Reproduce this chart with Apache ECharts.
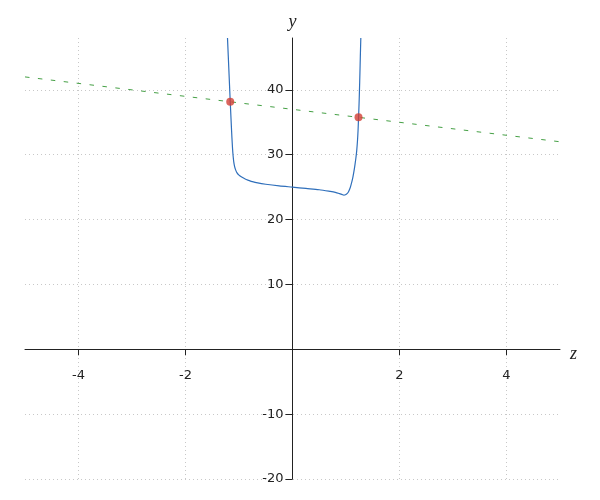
<!DOCTYPE html>
<html>
<head>
<meta charset="utf-8">
<script src="https://cdn.jsdelivr.net/npm/echarts@6/dist/echarts.min.js"></script>
<style>html,body{margin:0;padding:0;background:#fff}#c{width:600px;height:500px}</style>
</head>
<body>
<div id="c"></div>
<script>
// Curve values
const curveZ = [-1.215, -1.19, -1.164, -1.145, -1.132, -1.121, -1.110, -1.098, -1.083, -1.065, -1.040, -1.0, -0.95, -0.884, -0.82, -0.75, -0.65, -0.5, -0.25, 0, 0.25, 0.5, 0.7, 0.8, 0.88, 0.93, 0.96, 0.99, 1.02, 1.047, 1.08, 1.11, 1.13, 1.15, 1.17, 1.185, 1.20, 1.215, 1.225, 1.234, 1.243, 1.252, 1.26, 1.268, 1.277];
const curveY = [48, 43.2, 38.2, 34.8, 32.6, 31.0, 29.8, 28.9, 28.2, 27.7, 27.25, 26.85, 26.55, 26.25, 26.05, 25.85, 25.65, 25.45, 25.2, 25.0, 24.8, 24.6, 24.35, 24.2, 24.0, 23.85, 23.78, 23.82, 24.0, 24.3, 24.95, 25.85, 26.6, 27.5, 28.6, 29.5, 30.6, 32.2, 33.7, 35.6, 37.6, 40.0, 42.5, 45.2, 48];
// Dashed straight line
const lineZ = [-5, 5];
const lineY = [42, 32];
// Intersection points
const dotZ = [-1.164, 1.234];
const dotY = [38.16, 35.77];
// Axis ranges and ticks
const xRange = [-5, 5];
const yRange = [-20, 48];
const xTicks = [-4, -2, 0, 2, 4];
const yTicks = [-20, -10, 0, 10, 20, 30, 40];

const W = 600, H = 500;
const G = { left: 25, right: 40, top: 38, bottom: 21 };
const gridW = W - G.left - G.right, gridH = H - G.top - G.bottom;
// move axes so that they cross at the origin
const xAxisOffset = -gridH * (0 - yRange[0]) / (yRange[1] - yRange[0]);
const yAxisOffset = -gridW * (0 - xRange[0]) / (xRange[1] - xRange[0]);

const zip = (a, b) => a.map((v, i) => [v, b[i]]);
const labelFont = { fontFamily: 'DejaVu Sans', fontSize: 13, color: '#222' };
const nameFont = { fontFamily: 'Liberation Serif', fontStyle: 'italic', fontSize: 18, color: '#222' };
const gridStyle = { show: true, lineStyle: { color: '#c8c8c8', type: [1, 3], width: 1 } };

const chart = echarts.init(document.getElementById('c'), null, { renderer: 'canvas' });
chart.setOption({
  animation: false,
  backgroundColor: '#fff',
  grid: { ...G, containLabel: false, outerBoundsMode: 'none' },
  xAxis: {
    type: 'value', min: xRange[0], max: xRange[1], position: 'bottom', offset: xAxisOffset,
    name: 'z', nameLocation: 'end', nameGap: 10,
    nameTextStyle: { ...nameFont, verticalAlign: 'top', lineHeight: 9 },
    axisLine: { show: true, onZero: false, lineStyle: { color: '#222', width: 1 } },
    axisTick: { show: true, length: 6, customValues: xTicks, lineStyle: { color: '#222' } },
    axisLabel: { customValues: xTicks.filter(v => v !== 0), margin: 20, ...labelFont },
    splitLine: gridStyle
  },
  yAxis: {
    type: 'value', min: yRange[0], max: yRange[1], position: 'left', offset: yAxisOffset,
    name: 'y', nameLocation: 'end', nameGap: 7, nameTextStyle: nameFont,
    axisLine: { show: true, onZero: false, lineStyle: { color: '#222', width: 1 } },
    axisTick: { show: true, length: 7, customValues: yTicks, lineStyle: { color: '#222' } },
    axisLabel: { customValues: yTicks.filter(v => v !== 0), margin: 9, ...labelFont },
    splitLine: gridStyle
  },
  series: [
    {
      type: 'line', data: zip(lineZ, lineY), showSymbol: false, silent: true,
      lineStyle: { color: '#45a045', width: 1, type: [4.5, 8.5] }
    },
    {
      type: 'line', data: zip(curveZ, curveY), showSymbol: false, silent: true,
      smooth: 0.3, clip: true,
      lineStyle: { color: '#2f6fbb', width: 1.2 }
    },
    {
      type: 'scatter', data: zip(dotZ, dotY), symbol: 'circle', symbolSize: 8,
      itemStyle: { color: '#d23f35' }, z: 5
    }
  ]
});
</script>
</body>
</html>
